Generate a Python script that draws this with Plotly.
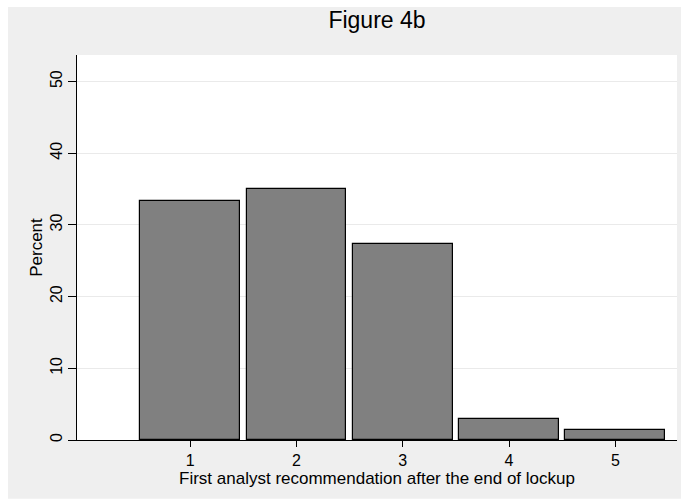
import plotly.graph_objects as go

categories = [1, 2, 3, 4, 5]
percent = [33.4, 35.0, 27.3, 2.9, 1.4]
y_ticks = [0, 10, 20, 30, 40, 50]

W, H = 682, 501
L, R, T, B = 77, 5, 55, 61
pw = W - L - R
ph = H - T - B

FONT = "Liberation Sans, Arial, sans-serif"

fig = go.Figure()
fig.add_trace(go.Bar(
    x=categories, y=percent, width=0.94,
    marker=dict(color="#808080", line=dict(color="black", width=1.2)),
))

# gray outer background with thin white border, then white plot area
fig.add_shape(type="rect", xref="paper", yref="paper", layer="below",
              x0=(8 - L) / pw, x1=(681 - L) / pw,
              y0=(H - T - 501) / ph - 0.01, y1=(H - B - 7) / ph,
              fillcolor="#EFEFEF", line=dict(width=0))
fig.add_shape(type="rect", xref="paper", yref="paper", layer="below",
              x0=0, x1=1, y0=0, y1=1, fillcolor="white", line=dict(width=0))

fig.update_layout(
    width=W, height=H,
    margin=dict(l=L, r=R, t=T, b=B),
    paper_bgcolor="white", plot_bgcolor="white",
    font=dict(family=FONT, color="black", size=16),
    showlegend=False,
    title=dict(text="Figure 4b", x=(L + pw / 2) / W, xanchor="center",
               y=1 - 20 / H, yanchor="middle", yref="container",
               font=dict(size=23, family=FONT, color="black")),
    bargap=0,
)
fig.update_xaxes(
    range=[-0.065, 5.58], tickvals=categories, ticktext=[str(c) for c in categories],
    showgrid=False, zeroline=False, showline=True, linecolor="black", linewidth=1,
    ticks="outside", ticklen=6, tickcolor="black", tickwidth=1,
    tickfont=dict(size=16), mirror=False,
    title=dict(text="First analyst recommendation after the end of lockup",
               font=dict(size=17), standoff=1),
)
fig.update_yaxes(
    range=[0, 53.7], tickvals=y_ticks, ticktext=[str(v) for v in y_ticks],
    showgrid=True, gridcolor="#EAEAEA", gridwidth=1, zeroline=False,
    showline=True, linecolor="black", linewidth=1,
    ticks="outside", ticklen=8, tickcolor="black", tickwidth=1,
    tickangle=-90, tickfont=dict(size=16),
    title=dict(text="Percent", font=dict(size=17), standoff=0),
)

fig.write_html("out.html")
